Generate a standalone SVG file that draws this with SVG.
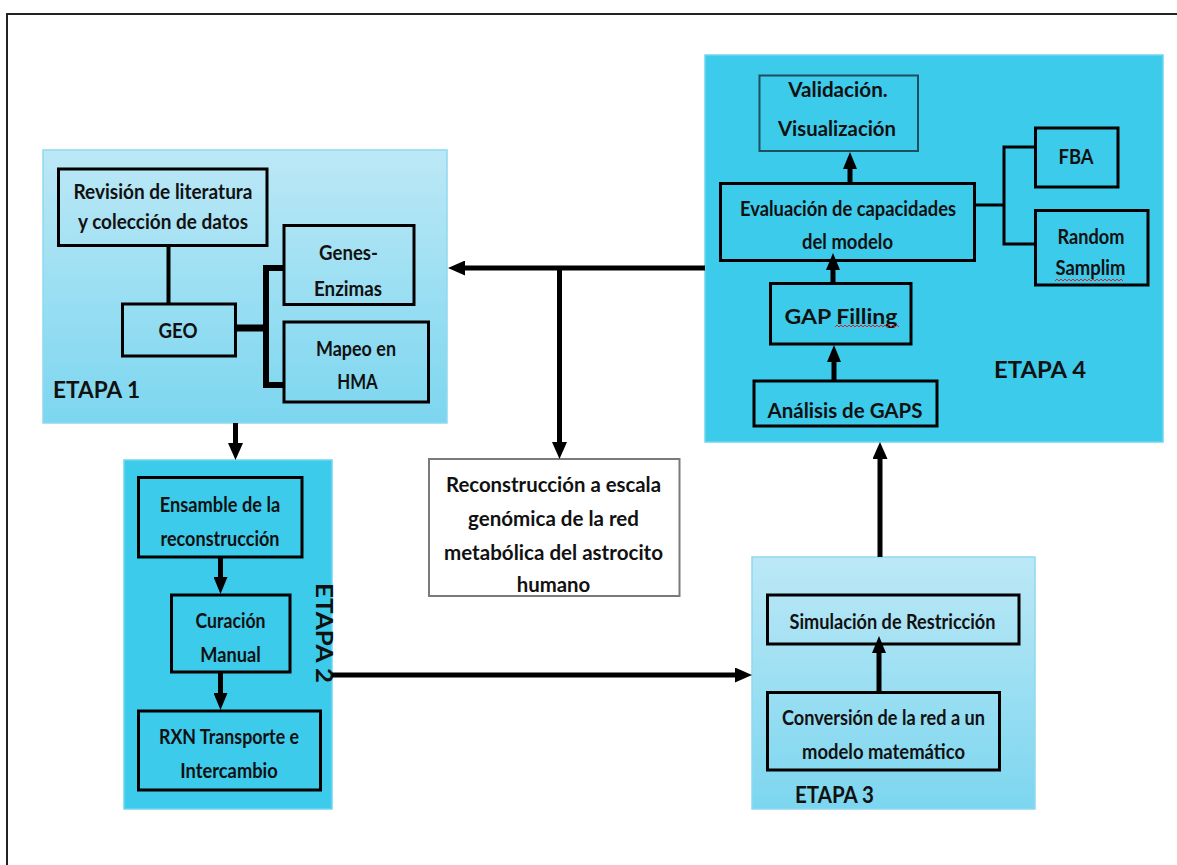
<svg xmlns="http://www.w3.org/2000/svg" width="1177" height="865" viewBox="0 0 1177 865">
<defs>
<linearGradient id="lg" x1="0" y1="0" x2="0" y2="1">
<stop offset="0" stop-color="#bce8f6"/>
<stop offset="1" stop-color="#7cd6ef"/>
</linearGradient>
<marker id="ah" markerUnits="userSpaceOnUse" markerWidth="17" markerHeight="15" refX="0" refY="7.5" orient="auto">
<path d="M0,0 L17,7.5 L0,15 Z" fill="#000"/>
</marker>
<marker id="ahs" markerUnits="userSpaceOnUse" markerWidth="17" markerHeight="14" refX="0" refY="7" orient="auto">
<path d="M0,0 L17,7 L0,14 Z" fill="#000"/>
</marker>
</defs>
<style>
.t{font-family:Lato,"Liberation Sans",sans-serif;font-weight:bold;font-size:20px;fill:#111;text-anchor:middle}
.lbl{font-family:Lato,"Liberation Sans",sans-serif;font-weight:bold;font-size:23px;fill:#111}
.box{stroke:#000;stroke-width:3;fill:none}
.lite{fill:url(#lg);stroke:#8fd9ef;stroke-width:1.5}
.solid{fill:#3ccbeb;stroke:#6fd6ee;stroke-width:1.5}
.c{stroke:#000;stroke-width:5;fill:none}
.ci{stroke:#000;stroke-width:5;fill:none}
.thin{stroke:#000;stroke-width:3;fill:none}
.wave{stroke:#d22;stroke-width:1;fill:none}
</style>
<rect width="1177" height="865" fill="#fff"/>
<path d="M7,865 V14 H1177" fill="none" stroke="#222" stroke-width="2"/>

<g id="etapa1">
<rect class="lite" x="43" y="150" width="404" height="273"/>
<text class="lbl" x="53" y="398" textLength="87" lengthAdjust="spacingAndGlyphs">ETAPA 1</text>
</g>
<g id="etapa4">
<rect class="solid" x="705" y="55" width="458" height="387"/>
<text class="lbl" x="994" y="378" textLength="92" lengthAdjust="spacingAndGlyphs">ETAPA 4</text>
</g>
<g id="etapa2">
<rect class="solid" x="124" y="460" width="208" height="349"/>
<text class="lbl" transform="translate(316,583) rotate(90)" x="0" y="0" font-size="20" textLength="100" lengthAdjust="spacingAndGlyphs">ETAPA 2</text>
</g>
<g id="etapa3">
<rect class="lite" x="752" y="557" width="283" height="252"/>
<text class="lbl" x="795" y="803" font-size="21" textLength="79" lengthAdjust="spacingAndGlyphs">ETAPA 3</text>
</g>

<g id="revision">
<rect class="box" x="58.5" y="169" width="208.5" height="76.5"/>
<text class="t" x="163" y="199" textLength="179" lengthAdjust="spacingAndGlyphs">Revisión de literatura</text>
<text class="t" x="163" y="229" textLength="170" lengthAdjust="spacingAndGlyphs">y colección de datos</text>
</g>
<g id="geo">
<rect class="box" x="122.5" y="304" width="113" height="52"/>
<text class="t" x="178" y="338" textLength="39" lengthAdjust="spacingAndGlyphs">GEO</text>
</g>
<g id="genes">
<rect class="box" x="284" y="225.5" width="130" height="79"/>
<text class="t" x="348.5" y="260" textLength="59" lengthAdjust="spacingAndGlyphs">Genes-</text>
<text class="t" x="348" y="296" textLength="68" lengthAdjust="spacingAndGlyphs">Enzimas</text>
</g>
<g id="mapeo">
<rect class="box" x="284" y="322" width="144.5" height="80"/>
<text class="t" x="356" y="356" textLength="80" lengthAdjust="spacingAndGlyphs">Mapeo en</text>
<text class="t" x="357.5" y="389" textLength="40.5" lengthAdjust="spacingAndGlyphs">HMA</text>
</g>

<g id="validacion">
<rect x="759.5" y="75.5" width="158.5" height="75.5" fill="none" stroke="#1d4f5c" stroke-width="2"/>
<text class="t" x="838" y="97" textLength="99.5" lengthAdjust="spacingAndGlyphs">Validación.</text>
<text class="t" x="837" y="136" textLength="118" lengthAdjust="spacingAndGlyphs">Visualización</text>
</g>
<g id="evaluacion">
<rect class="box" x="720.5" y="183.5" width="254" height="77"/>
<text class="t" x="848" y="216" textLength="216" lengthAdjust="spacingAndGlyphs">Evaluación de capacidades</text>
<text class="t" x="847.5" y="249" textLength="91" lengthAdjust="spacingAndGlyphs">del modelo</text>
</g>
<g id="fba">
<rect class="box" x="1035.5" y="128" width="82.5" height="59"/>
<text class="t" x="1076" y="164" textLength="35" lengthAdjust="spacingAndGlyphs">FBA</text>
</g>
<g id="random">
<rect class="box" x="1035.5" y="210.5" width="112.5" height="74.5"/>
<text class="t" x="1091" y="244" textLength="67" lengthAdjust="spacingAndGlyphs">Random</text>
<text class="t" x="1090.5" y="275" textLength="70" lengthAdjust="spacingAndGlyphs">Samplim</text>
<path class="wave" d="M1055,281 l2,-2 l2,2 l2,-2 l2,2 l2,-2 l2,2 l2,-2 l2,2 l2,-2 l2,2 l2,-2 l2,2 l2,-2 l2,2 l2,-2 l2,2 l2,-2 l2,2 l2,-2 l2,2 l2,-2 l2,2 l2,-2 l2,2 l2,-2 l2,2 l2,-2 l2,2 l2,-2 l2,2 l2,-2 l2,2 l2,-2 l2,2"/>
</g>
<g id="gapfilling">
<rect class="box" x="770.5" y="283.5" width="140.5" height="60.5"/>
<text class="t" x="841" y="323.5" font-size="24" textLength="113" lengthAdjust="spacingAndGlyphs">GAP Filling</text>
<path class="wave" d="M835,327 l2,-2 l2,2 l2,-2 l2,2 l2,-2 l2,2 l2,-2 l2,2 l2,-2 l2,2 l2,-2 l2,2 l2,-2 l2,2 l2,-2 l2,2 l2,-2 l2,2 l2,-2 l2,2 l2,-2 l2,2 l2,-2 l2,2 l2,-2 l2,2 l2,-2 l2,2 l2,-2 l2,2 l2,-2 l2,2"/>
</g>
<g id="analisis">
<rect class="box" x="754" y="381" width="183" height="45"/>
<text class="t" x="845" y="418" font-size="21" textLength="155" lengthAdjust="spacingAndGlyphs">Análisis de GAPS</text>
</g>

<g id="ensamble">
<rect class="box" x="138.5" y="477.5" width="163.5" height="79.5"/>
<text class="t" x="220" y="512" textLength="120.5" lengthAdjust="spacingAndGlyphs">Ensamble de la</text>
<text class="t" x="220" y="546" textLength="119" lengthAdjust="spacingAndGlyphs">reconstrucción</text>
</g>
<g id="curacion">
<rect class="box" x="171.5" y="595" width="118.5" height="77"/>
<text class="t" x="230.5" y="628" textLength="70" lengthAdjust="spacingAndGlyphs">Curación</text>
<text class="t" x="230.5" y="662" textLength="60.5" lengthAdjust="spacingAndGlyphs">Manual</text>
</g>
<g id="rxn">
<rect class="box" x="138.5" y="711" width="182" height="79"/>
<text class="t" x="229" y="744" textLength="140" lengthAdjust="spacingAndGlyphs">RXN Transporte e</text>
<text class="t" x="229" y="778" textLength="97.5" lengthAdjust="spacingAndGlyphs">Intercambio</text>
</g>

<g id="reconstruccion">
<rect x="429" y="459" width="250.5" height="137" fill="#fff" stroke="#7a7a7a" stroke-width="2"/>
<text class="t" x="553.5" y="492" font-size="21" textLength="215" lengthAdjust="spacingAndGlyphs">Reconstrucción a escala</text>
<text class="t" x="553.5" y="526" font-size="21" textLength="171" lengthAdjust="spacingAndGlyphs">genómica de la red</text>
<text class="t" x="553.5" y="560" font-size="21" textLength="219" lengthAdjust="spacingAndGlyphs">metabólica del astrocito</text>
<text class="t" x="553.5" y="592" font-size="21" textLength="73.5" lengthAdjust="spacingAndGlyphs">humano</text>
</g>

<g id="simulacion">
<rect class="box" x="767.5" y="595" width="251.5" height="49"/>
<text class="t" x="892.5" y="628.5" font-size="20" textLength="206" lengthAdjust="spacingAndGlyphs">Simulación de Restricción</text>
</g>
<g id="conversion">
<rect class="box" x="767.5" y="692.5" width="232" height="77.5"/>
<text class="t" x="883.5" y="725" font-size="20" textLength="203" lengthAdjust="spacingAndGlyphs">Conversión de la red a un</text>
<text class="t" x="883.5" y="758.5" font-size="20" textLength="163" lengthAdjust="spacingAndGlyphs">modelo matemático</text>
</g>

<g id="connectors">
<line class="c" x1="705" y1="268" x2="465" y2="268" marker-end="url(#ah)"/>
<line class="c" x1="559.5" y1="266" x2="559.5" y2="442" marker-end="url(#ah)"/>
<line class="c" x1="235.5" y1="423" x2="235.5" y2="443" marker-end="url(#ah)"/>
<line class="c" x1="332" y1="675" x2="735" y2="675" marker-end="url(#ah)"/>
<line class="c" x1="880" y1="557" x2="880" y2="459" marker-end="url(#ah)"/>
<line x1="168.5" y1="246" x2="168.5" y2="304" stroke="#000" stroke-width="4"/>
<line x1="236" y1="328" x2="266" y2="328" stroke="#000" stroke-width="7"/>
<polyline points="284,268 266,268 266,385 284,385" stroke="#000" stroke-width="6" fill="none"/>
<line class="ci" x1="850" y1="183" x2="850" y2="169" marker-end="url(#ahs)"/>
<line class="ci" x1="833" y1="283" x2="833" y2="270" marker-end="url(#ahs)"/>
<line class="ci" x1="834" y1="381" x2="834" y2="362" marker-end="url(#ahs)"/>
<line class="ci" x1="220.5" y1="557" x2="220.5" y2="577" marker-end="url(#ahs)"/>
<line class="ci" x1="220.5" y1="672" x2="220.5" y2="693" marker-end="url(#ahs)"/>
<line class="ci" x1="879" y1="692" x2="879" y2="653" marker-end="url(#ahs)"/>
<line class="thin" x1="975" y1="205" x2="1004" y2="205"/>
<polyline class="thin" points="1036,147 1004,147 1004,244 1036,244"/>
</g>
</svg>
